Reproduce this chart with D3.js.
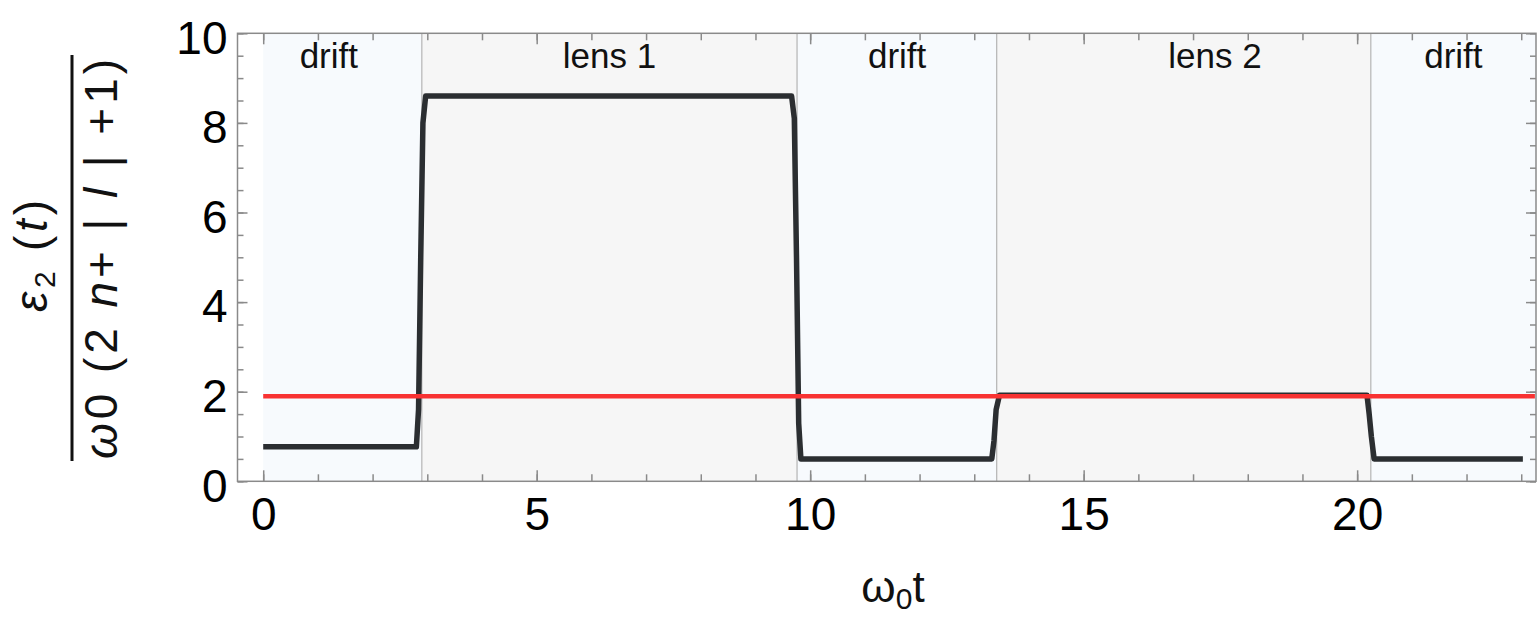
<!DOCTYPE html>
<html>
<head>
<meta charset="utf-8">
<script src="https://cdn.jsdelivr.net/npm/d3@7"></script>
<style>
  body { margin: 0; background: #fff; }
  svg text { font-family: "Liberation Sans", Arial, sans-serif; }
</style>
</head>
<body>
<div id="chart"></div>
<script>
const width = 1537;
const height = 618;

// plot frame in px
const frame = { left: 237.5, right: 1536, top: 33.3, bottom: 481.3 };

// regions (start, end in omega0 t), label and where the label sits
const regionStarts = [0, 2.9, 9.76, 13.41, 20.25];
const regionEnds = [2.9, 9.76, 13.41, 20.25, 23.27];
const regionNames = ["drift", "lens 1", "drift", "lens 2", "drift"];
const regionKinds = ["drift", "lens", "drift", "lens", "drift"];
const regionLabelX = [1.2, 6.33, 11.59, 17.4, 21.76];

// black curve
const curveT = [0, 2.8, 2.84, 2.88, 2.92, 2.97, 9.66, 9.71, 9.75, 9.79, 9.83,
  13.32, 13.36, 13.4, 13.46, 20.18, 20.22, 20.26, 20.31, 23.03];
const curveE = [0.77, 0.77, 1.6, 5.0, 8.0, 8.6, 8.6, 8.1, 5.0, 1.3, 0.5,
  0.5, 0.9, 1.6, 1.92, 1.92, 1.5, 1.0, 0.5, 0.5];

// red reference level
const refLevel = 1.9;
const refStart = 0;
const refEnd = 23.25;

const xMajor = [0, 5, 10, 15, 20];
const xMinor = d3.range(0, 24);
const yMajor = [0, 2, 4, 6, 8, 10];
const yMinor = d3.range(0, 10.01, 0.5);

const svg = d3.select("#chart").append("svg").attr("width", width).attr("height", height);

const x = d3.scaleLinear().domain([-0.47, 23.27]).range([frame.left, frame.right]);
const y = d3.scaleLinear().domain([0, 10]).range([frame.bottom, frame.top]);

const regions = regionStarts.map((s, i) => ({
  start: s, end: regionEnds[i],
  name: regionNames[i], kind: regionKinds[i], lx: regionLabelX[i]
}));

// backgrounds
svg.selectAll("rect.region")
  .data(regions)
  .join("rect")
  .attr("class", "region")
  .attr("x", d => x(d.start))
  .attr("y", frame.top)
  .attr("width", d => x(d.end) - x(d.start))
  .attr("height", frame.bottom - frame.top)
  .attr("fill", d => d.kind === "drift" ? "#f7fafd" : "#f6f6f6");

// region dividers
svg.selectAll("line.divider")
  .data(regions.slice(1))
  .join("line")
  .attr("class", "divider")
  .attr("x1", d => x(d.start))
  .attr("x2", d => x(d.start))
  .attr("y1", frame.top)
  .attr("y2", frame.bottom)
  .attr("stroke", "#b4b4b4")
  .attr("stroke-width", 1.2);

// region labels
svg.selectAll("text.regionLabel")
  .data(regions)
  .join("text")
  .attr("class", "regionLabel")
  .attr("x", d => x(d.lx))
  .attr("y", 68)
  .attr("text-anchor", "middle")
  .attr("font-size", 35)
  .attr("fill", "#111")
  .text(d => d.name);

// axes: ticks drawn inward on all four sides
function styleAxis(sel) {
  sel.select(".domain").remove();
  sel.selectAll(".tick line").attr("stroke", "#8a8a8a").attr("stroke-width", 1.5);
  sel.selectAll(".tick text").attr("font-size", 46).attr("fill", "#000")
    .style("font-family", "'Liberation Sans', Arial, sans-serif");
}

svg.append("g").attr("transform", `translate(0,${frame.bottom})`)
  .call(d3.axisBottom(x).tickValues(xMinor).tickSize(-7).tickFormat(""))
  .call(styleAxis);
svg.append("g").attr("transform", `translate(0,${frame.bottom})`)
  .call(d3.axisBottom(x).tickValues(xMajor).tickSize(-11).tickPadding(16).tickFormat(d3.format("d")))
  .call(styleAxis);
svg.append("g").attr("transform", `translate(0,${frame.top})`)
  .call(d3.axisTop(x).tickValues(xMinor).tickSize(-7).tickFormat(""))
  .call(styleAxis);
svg.append("g").attr("transform", `translate(0,${frame.top})`)
  .call(d3.axisTop(x).tickValues(xMajor).tickSize(-11).tickFormat(""))
  .call(styleAxis);

svg.append("g").attr("transform", `translate(${frame.left},0)`)
  .call(d3.axisLeft(y).tickValues(yMinor).tickSize(-6).tickFormat(""))
  .call(styleAxis);
const yAx = svg.append("g").attr("transform", `translate(${frame.left},0)`)
  .call(d3.axisLeft(y).tickValues(yMajor).tickSize(-10).tickPadding(10).tickFormat(d3.format("d")))
  .call(styleAxis);
yAx.selectAll(".tick text").attr("dy", "0.43em");
svg.append("g").attr("transform", `translate(${frame.right},0)`)
  .call(d3.axisRight(y).tickValues(yMinor).tickSize(-6).tickFormat(""))
  .call(styleAxis);
svg.append("g").attr("transform", `translate(${frame.right},0)`)
  .call(d3.axisRight(y).tickValues(yMajor).tickSize(-10).tickFormat(""))
  .call(styleAxis);

// frame
svg.append("rect")
  .attr("x", frame.left)
  .attr("y", frame.top)
  .attr("width", frame.right - frame.left)
  .attr("height", frame.bottom - frame.top)
  .attr("fill", "none")
  .attr("stroke", "#8a8a8a")
  .attr("stroke-width", 1.5);

// black curve
const curveData = curveT.map((t, i) => ({ t: t, e: curveE[i] }));
svg.append("path")
  .datum(curveData)
  .attr("fill", "none")
  .attr("stroke", "#2b2e31")
  .attr("stroke-width", 5.5)
  .attr("stroke-linejoin", "round")
  .attr("d", d3.line().x(d => x(d.t)).y(d => y(d.e)));

// red level
svg.append("line")
  .attr("x1", x(refStart))
  .attr("x2", x(refEnd))
  .attr("y1", y(refLevel))
  .attr("y2", y(refLevel))
  .attr("stroke", "#f83232")
  .attr("stroke-width", 4.5);

// x axis title
const xt = svg.append("text")
  .attr("x", 893)
  .attr("y", 602)
  .attr("text-anchor", "middle")
  .attr("font-size", 44)
  .attr("fill", "#111");
xt.append("tspan").text("ω");
xt.append("tspan").attr("font-size", 30).attr("dy", 7).text("0");
xt.append("tspan").attr("dy", -7).text("t");

// y axis title, a rotated fraction
const num = svg.append("text")
  .attr("transform", "translate(47,256) rotate(-90)")
  .attr("text-anchor", "middle")
  .attr("font-size", 46)
  .attr("fill", "#111")
  .attr("textLength", 112)
  .attr("lengthAdjust", "spacing");
num.append("tspan").attr("font-style", "italic").text("ε");
num.append("tspan").attr("font-size", 30).attr("dy", 8).text("2");
num.append("tspan").attr("dy", -8).text(" (");
num.append("tspan").attr("font-style", "italic").text("t");
num.append("tspan").text(")");

svg.append("line")
  .attr("x1", 72).attr("x2", 72)
  .attr("y1", 55).attr("y2", 461)
  .attr("stroke", "#111")
  .attr("stroke-width", 3);

const den = svg.append("text")
  .attr("transform", "translate(117,259) rotate(-90)")
  .attr("text-anchor", "middle")
  .attr("font-size", 46)
  .attr("fill", "#111")
  .attr("textLength", 400)
  .attr("lengthAdjust", "spacing");
den.append("tspan").attr("font-style", "italic").text("ω");
den.append("tspan").text("0 (2 ");
den.append("tspan").attr("font-style", "italic").text("n");
den.append("tspan").text("+ | ");
den.append("tspan").attr("font-style", "italic").text("l");
den.append("tspan").text(" | +1)");
</script>
</body>
</html>
